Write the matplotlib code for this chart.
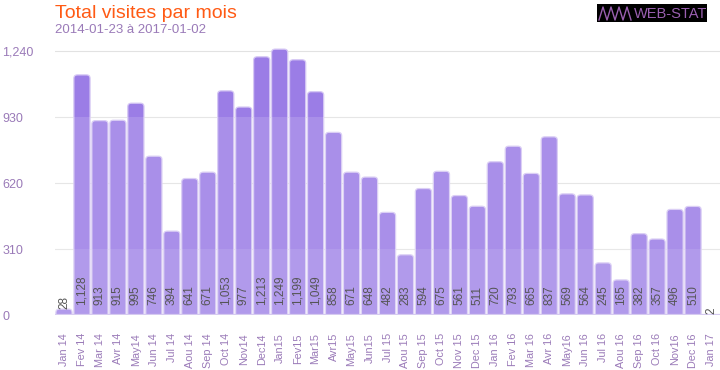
import matplotlib
matplotlib.use("Agg")
import matplotlib.pyplot as plt
from matplotlib.patches import FancyBboxPatch, Rectangle

plt.rcParams["font.family"] = ["Liberation Sans", "DejaVu Sans"]

months = ["Jan 14", "Fev 14", "Mar 14", "Avr 14", "May14", "Jun 14", "Jul 14", "Aou 14",
          "Sep 14", "Oct 14", "Nov14", "Dec14",
          "Jan15", "Fev15", "Mar15", "Avr15", "May15", "Jun15", "Jul 15", "Aou 15",
          "Sep 15", "Oct 15", "Nov 15", "Dec 15",
          "Jan 16", "Fev 16", "Mar 16", "Avr 16", "May16", "Jun 16", "Jul 16", "Aou 16",
          "Sep 16", "Oct 16", "Nov16", "Dec 16", "Jan 17"]
visits = [28, 1128, 913, 915, 995, 746, 394, 641, 671, 1053, 977, 1213,
          1249, 1199, 1049, 858, 671, 648, 482, 283, 594, 675, 561, 511,
          720, 793, 665, 837, 569, 564, 245, 165, 382, 357, 496, 510, 2]
yticks = [0, 310, 620, 930, 1240]

bar_col = "#9b7de6"
edge_col = "#d6c8f4"
label_col = "#9a7ab8"

fig = plt.figure(figsize=(7.2, 3.7), dpi=100)
ax = fig.add_axes([55/720, 1 - 315/370, 665/720, 268/370])
ymax = 1259
ax.set_ylim(0, ymax)
ax.set_xlim(-0.5, len(visits) - 0.5)

x = list(range(len(visits)))
bars = ax.bar(x, visits, width=0.9, color="none", edgecolor="none")
for r in bars:
    p = FancyBboxPatch((r.get_x(), -30), r.get_width(), r.get_height() + 30,
                       boxstyle="round,pad=0,rounding_size=0.2",
                       mutation_aspect=80, facecolor=bar_col,
                       edgecolor=edge_col, linewidth=0.9, zorder=2)
    ax.add_patch(p)

# lighter bands below the upper gridlines
ax.axhspan(0, 930, color="white", alpha=0.14, zorder=3, lw=0)
ax.axhspan(0, 310, color="white", alpha=0.10, zorder=3, lw=0)

for t in yticks[1:]:
    ax.axhline(t, color="#e2e2e2", lw=0.8, zorder=1)
ax.axhline(0, color="#d6cbf0", lw=1.6, zorder=4)

for xi, v in zip(x, visits):
    y = 45 if v > 60 else v + 2
    ax.text(xi, y, f"{v:,}", rotation=90, ha="center", va="bottom",
            fontsize=8.5, color="#555555", zorder=5)

for s in ax.spines.values():
    s.set_visible(False)
ax.set_yticks(yticks)
ax.set_yticklabels([f"{t:,}" for t in yticks])
for lab in ax.get_yticklabels():
    lab.set_ha("left")
ax.tick_params(axis="y", length=0, pad=38, labelsize=9, labelcolor=label_col)
ax.set_xticks(x)
ax.set_xticklabels(months, rotation=90)
ax.tick_params(axis="x", length=0, pad=13, labelsize=7.8, labelcolor=label_col)

fig.text(55/720, 1 - 13/370, "Total visites par mois", color="#ff5a14",
         fontsize=14, ha="left", va="center")
fig.text(55/720, 1 - 30/370, "2014-01-23 à 2017-01-02", color=label_col,
         fontsize=9.5, ha="left", va="center")

# logo
fig.patches.append(Rectangle((597/720, 1 - 22/370), 110/720, 18/370,
                             transform=fig.transFigure, facecolor="black",
                             edgecolor="none"))
mx = [599, 603, 607, 611, 615, 619, 623, 627, 631]
my = [20, 7, 20, 7, 20, 7, 20, 7, 20]
fig.lines.append(plt.Line2D([v/720 for v in mx], [1 - v/370 for v in my],
                            transform=fig.transFigure, color="#9a5fb0", lw=1))
fig.text(634/720, 1 - 13.5/370, "WEB-STAT", color="#9a5fb0", fontsize=10.5,
         ha="left", va="center")

fig.savefig("out.png", dpi=100)
